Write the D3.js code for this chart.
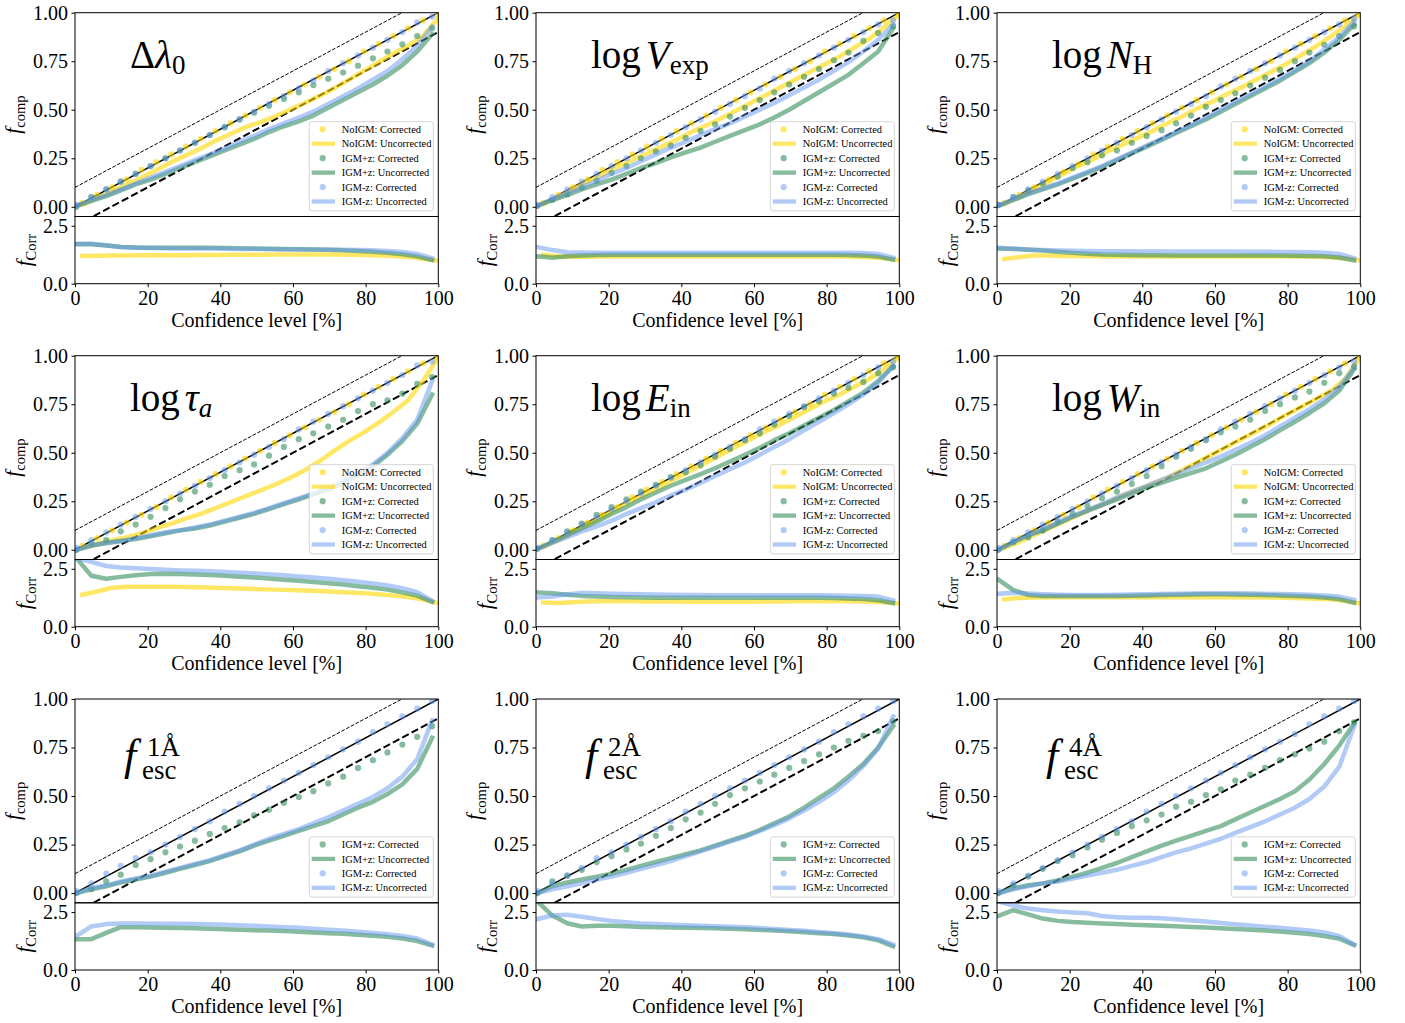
<!DOCTYPE html>
<html>
<head>
<meta charset="utf-8">
<script src="https://cdn.jsdelivr.net/npm/d3@7"></script>
<style>
  body { margin: 0; background: #fff; }
  svg text { font-family: "Liberation Serif", "Times New Roman", serif; fill: #000; }
</style>
</head>
<body>
<svg id="fig" width="1405" height="1023"></svg>
<script>
// ---------------------------------------------------------------------------
// Confidence-level grids (per mock sample set)
// ---------------------------------------------------------------------------
const CL_IGM   = [0.4, 4.5, 8.6, 12.6, 16.7, 20.8, 24.9, 28.9, 33.0, 37.1, 41.2, 45.3, 49.3, 53.4, 57.5, 61.6, 65.6, 69.7, 73.8, 77.9, 82.0, 86.0, 90.1, 94.2, 98.3];
const CL_NOIGM = [2.0, 6.1, 10.2, 14.2, 18.3, 22.4, 26.5, 30.5, 34.6, 38.7, 42.8, 46.9, 50.9, 55.0, 59.1, 63.2, 67.2, 71.3, 75.4, 79.5, 83.6, 87.6, 91.7, 95.8, 99.9];

const X_TICKS = [0, 20, 40, 60, 80, 100];
const COMP_TICKS = [0, 0.25, 0.5, 0.75, 1.0];
const CORR_TICKS = [0, 2.5];
const SERIES_NAMES = ["NoIGM", "IGM+z", "IGM-z"];
const REF_OFFSETS = [0.1, 0.0, -0.1];

// ---------------------------------------------------------------------------
// Δλ0
// ---------------------------------------------------------------------------
const dl0_nigm_corr  = [0.02,0.06,0.10,0.14,0.19,0.23,0.27,0.31,0.35,0.39,0.43,0.47,0.51,0.55,0.59,0.63,0.67,0.71,0.75,0.80,0.84,0.88,0.92,0.96,0.99];
const dl0_nigm_unc   = [0.01,0.045,0.08,0.115,0.15,0.19,0.23,0.265,0.30,0.34,0.375,0.41,0.435,0.465,0.50,0.535,0.57,0.61,0.655,0.70,0.745,0.79,0.83,0.88,0.97];
const dl0_nigm_fcorr = [1.20,1.21,1.22,1.22,1.23,1.23,1.23,1.23,1.24,1.24,1.25,1.25,1.25,1.26,1.26,1.26,1.26,1.26,1.25,1.24,1.22,1.20,1.15,1.08,1.00];
const dl0_pz_corr    = [0.00,0.05,0.09,0.13,0.17,0.21,0.25,0.29,0.33,0.37,0.41,0.45,0.485,0.52,0.555,0.59,0.627,0.66,0.692,0.727,0.765,0.80,0.837,0.88,0.92];
const dl0_pz_unc     = [0.005,0.03,0.055,0.085,0.115,0.14,0.17,0.20,0.23,0.26,0.29,0.32,0.35,0.385,0.415,0.44,0.47,0.51,0.55,0.59,0.63,0.675,0.73,0.80,0.89];
const dl0_pz_fcorr   = [1.70,1.70,1.65,1.58,1.56,1.55,1.55,1.55,1.55,1.55,1.54,1.53,1.52,1.51,1.50,1.49,1.48,1.46,1.44,1.41,1.38,1.33,1.27,1.18,1.02];
const dl0_mz_corr    = [0.01,0.05,0.09,0.13,0.17,0.21,0.25,0.29,0.33,0.37,0.41,0.45,0.49,0.53,0.57,0.61,0.65,0.70,0.74,0.78,0.82,0.86,0.90,0.95,0.98];
const dl0_mz_unc     = [0.005,0.035,0.06,0.09,0.12,0.15,0.18,0.21,0.24,0.27,0.30,0.335,0.365,0.40,0.43,0.46,0.49,0.53,0.57,0.61,0.655,0.70,0.76,0.83,0.93];
const dl0_mz_fcorr   = [1.72,1.72,1.66,1.58,1.55,1.54,1.53,1.52,1.52,1.52,1.51,1.50,1.50,1.49,1.48,1.48,1.48,1.47,1.46,1.45,1.44,1.41,1.37,1.28,1.10];

// ---------------------------------------------------------------------------
// log V_exp
// ---------------------------------------------------------------------------
const vexp_nigm_corr  = [0.02,0.06,0.10,0.14,0.19,0.23,0.27,0.31,0.35,0.39,0.43,0.47,0.51,0.55,0.59,0.63,0.67,0.71,0.75,0.80,0.84,0.88,0.92,0.96,0.99];
const vexp_nigm_unc   = [0.015,0.05,0.09,0.13,0.165,0.205,0.24,0.275,0.31,0.345,0.385,0.42,0.455,0.495,0.535,0.575,0.615,0.655,0.695,0.735,0.775,0.82,0.865,0.925,0.99];
const vexp_nigm_fcorr = [1.25,1.18,1.16,1.16,1.17,1.17,1.17,1.17,1.17,1.17,1.17,1.17,1.17,1.17,1.17,1.17,1.17,1.17,1.17,1.17,1.17,1.16,1.14,1.10,1.02];
const vexp_pz_corr    = [0.005,0.035,0.065,0.10,0.135,0.175,0.21,0.25,0.285,0.315,0.355,0.39,0.425,0.465,0.51,0.55,0.59,0.63,0.67,0.71,0.755,0.795,0.855,0.895,0.93];
const vexp_pz_unc     = [0.005,0.035,0.06,0.09,0.115,0.14,0.17,0.20,0.225,0.255,0.28,0.305,0.335,0.365,0.395,0.425,0.46,0.50,0.545,0.59,0.635,0.68,0.74,0.80,0.92];
const vexp_pz_fcorr   = [1.18,1.12,1.18,1.22,1.24,1.25,1.25,1.25,1.25,1.25,1.25,1.25,1.25,1.25,1.25,1.25,1.25,1.25,1.25,1.25,1.25,1.24,1.22,1.17,1.04];
const vexp_mz_corr    = [0.01,0.05,0.09,0.13,0.17,0.21,0.25,0.29,0.33,0.37,0.41,0.45,0.49,0.53,0.57,0.61,0.66,0.70,0.74,0.78,0.82,0.86,0.90,0.94,0.96];
const vexp_mz_unc     = [0.005,0.04,0.07,0.10,0.135,0.17,0.20,0.235,0.27,0.305,0.335,0.37,0.40,0.43,0.465,0.50,0.535,0.575,0.615,0.655,0.70,0.745,0.80,0.86,0.94];
const vexp_mz_fcorr   = [1.58,1.45,1.36,1.35,1.34,1.34,1.34,1.34,1.34,1.34,1.34,1.34,1.34,1.34,1.34,1.34,1.34,1.34,1.34,1.34,1.34,1.34,1.33,1.28,1.12];

// ---------------------------------------------------------------------------
// log N_H
// ---------------------------------------------------------------------------
const nh_nigm_corr  = [0.02,0.06,0.10,0.14,0.18,0.22,0.27,0.31,0.35,0.39,0.43,0.47,0.51,0.55,0.59,0.63,0.67,0.71,0.75,0.80,0.84,0.88,0.92,0.96,0.99];
const nh_nigm_unc   = [0.015,0.05,0.09,0.13,0.17,0.21,0.245,0.285,0.32,0.355,0.39,0.43,0.465,0.505,0.54,0.58,0.615,0.655,0.695,0.735,0.78,0.825,0.875,0.93,0.995];
const nh_nigm_fcorr = [1.07,1.15,1.22,1.22,1.20,1.19,1.18,1.17,1.17,1.17,1.17,1.17,1.17,1.17,1.17,1.17,1.17,1.17,1.17,1.17,1.17,1.16,1.14,1.10,1.01];
const nh_pz_corr    = [0.01,0.05,0.085,0.12,0.155,0.20,0.23,0.265,0.29,0.33,0.365,0.395,0.43,0.47,0.515,0.55,0.585,0.625,0.665,0.705,0.75,0.795,0.835,0.88,0.93];
const nh_pz_unc     = [0.005,0.035,0.065,0.09,0.115,0.145,0.175,0.205,0.24,0.275,0.31,0.345,0.38,0.415,0.45,0.49,0.53,0.57,0.61,0.65,0.695,0.74,0.795,0.86,0.94];
const nh_pz_fcorr   = [1.52,1.50,1.47,1.43,1.38,1.33,1.29,1.26,1.25,1.24,1.23,1.23,1.22,1.22,1.22,1.22,1.22,1.22,1.22,1.22,1.21,1.20,1.18,1.13,1.01];
const nh_mz_corr    = [0.01,0.05,0.09,0.13,0.17,0.21,0.25,0.29,0.33,0.37,0.41,0.45,0.49,0.53,0.57,0.62,0.66,0.70,0.74,0.78,0.82,0.86,0.90,0.94,0.97];
const nh_mz_unc     = [0.005,0.04,0.07,0.095,0.12,0.15,0.18,0.21,0.245,0.28,0.315,0.35,0.385,0.42,0.46,0.50,0.54,0.58,0.62,0.66,0.705,0.75,0.81,0.875,0.955];
const nh_mz_fcorr   = [1.55,1.52,1.48,1.45,1.43,1.42,1.41,1.40,1.40,1.40,1.39,1.39,1.39,1.39,1.39,1.39,1.39,1.38,1.38,1.37,1.37,1.36,1.34,1.28,1.10];

// ---------------------------------------------------------------------------
// log τ_a
// ---------------------------------------------------------------------------
const tau_nigm_corr  = [0.02,0.06,0.10,0.14,0.18,0.22,0.27,0.31,0.35,0.39,0.43,0.47,0.51,0.55,0.59,0.63,0.67,0.71,0.75,0.80,0.84,0.88,0.92,0.96,0.99];
const tau_nigm_unc   = [0.01,0.03,0.05,0.065,0.085,0.11,0.135,0.16,0.185,0.215,0.245,0.275,0.305,0.335,0.37,0.41,0.455,0.51,0.56,0.605,0.655,0.71,0.77,0.87,0.99];
const tau_nigm_fcorr = [1.38,1.52,1.68,1.72,1.72,1.72,1.72,1.71,1.70,1.68,1.66,1.64,1.62,1.60,1.58,1.56,1.54,1.51,1.48,1.44,1.40,1.35,1.28,1.17,1.02];
const tau_pz_corr    = [0.00,0.035,0.05,0.095,0.13,0.17,0.215,0.26,0.30,0.335,0.38,0.41,0.44,0.485,0.53,0.57,0.60,0.635,0.67,0.715,0.75,0.77,0.805,0.855,0.89];
const tau_pz_unc     = [0.00,0.02,0.035,0.045,0.055,0.07,0.085,0.10,0.11,0.125,0.145,0.165,0.185,0.21,0.235,0.26,0.285,0.31,0.345,0.385,0.43,0.49,0.56,0.65,0.80];
const tau_pz_fcorr   = [2.95,2.20,2.07,2.15,2.22,2.27,2.28,2.27,2.25,2.23,2.20,2.16,2.12,2.08,2.03,1.98,1.93,1.88,1.82,1.75,1.68,1.60,1.48,1.34,1.07];
const tau_mz_corr    = [0.01,0.05,0.09,0.13,0.17,0.21,0.25,0.29,0.33,0.37,0.41,0.45,0.49,0.53,0.57,0.62,0.66,0.70,0.74,0.78,0.82,0.86,0.90,0.95,0.97];
const tau_mz_unc     = [0.00,0.025,0.035,0.045,0.06,0.075,0.09,0.10,0.115,0.13,0.15,0.17,0.19,0.215,0.24,0.265,0.29,0.32,0.355,0.395,0.44,0.50,0.575,0.67,0.87];
const tau_mz_fcorr   = [2.95,2.80,2.62,2.55,2.52,2.49,2.46,2.43,2.41,2.39,2.36,2.33,2.30,2.26,2.22,2.17,2.12,2.07,2.01,1.94,1.87,1.78,1.66,1.49,1.12];

// ---------------------------------------------------------------------------
// log E_in
// ---------------------------------------------------------------------------
const ein_nigm_corr  = [0.02,0.06,0.10,0.14,0.18,0.22,0.27,0.31,0.35,0.39,0.43,0.47,0.51,0.55,0.59,0.63,0.67,0.71,0.75,0.80,0.84,0.88,0.92,0.96,0.99];
const ein_nigm_unc   = [0.015,0.05,0.09,0.13,0.17,0.215,0.255,0.29,0.33,0.37,0.41,0.45,0.49,0.53,0.57,0.61,0.645,0.685,0.725,0.765,0.80,0.84,0.88,0.93,0.995];
const ein_nigm_fcorr = [1.04,1.02,1.06,1.09,1.10,1.10,1.10,1.09,1.09,1.09,1.08,1.08,1.08,1.08,1.08,1.09,1.09,1.10,1.10,1.10,1.10,1.10,1.08,1.05,1.00];
const ein_pz_corr    = [0.005,0.05,0.095,0.135,0.18,0.22,0.26,0.30,0.335,0.375,0.40,0.435,0.48,0.52,0.565,0.60,0.645,0.69,0.735,0.765,0.805,0.835,0.865,0.91,0.94];
const ein_pz_unc     = [0.005,0.04,0.075,0.11,0.145,0.185,0.22,0.26,0.295,0.33,0.36,0.39,0.42,0.455,0.49,0.525,0.565,0.60,0.64,0.68,0.72,0.765,0.81,0.87,0.945];
const ein_pz_fcorr   = [1.48,1.44,1.38,1.33,1.30,1.28,1.27,1.26,1.25,1.25,1.25,1.25,1.25,1.25,1.25,1.25,1.25,1.25,1.25,1.25,1.24,1.22,1.20,1.14,1.02];
const ein_mz_corr    = [0.01,0.05,0.09,0.13,0.17,0.21,0.25,0.29,0.33,0.37,0.41,0.45,0.49,0.53,0.57,0.62,0.66,0.70,0.74,0.78,0.82,0.86,0.90,0.94,0.97];
const ein_mz_unc     = [0.005,0.035,0.065,0.095,0.12,0.15,0.185,0.215,0.245,0.28,0.31,0.345,0.38,0.415,0.45,0.49,0.53,0.57,0.615,0.66,0.705,0.75,0.80,0.86,0.95];
const ein_mz_fcorr   = [1.26,1.30,1.40,1.45,1.44,1.42,1.41,1.40,1.39,1.38,1.37,1.37,1.36,1.36,1.36,1.36,1.36,1.36,1.36,1.36,1.35,1.34,1.33,1.30,1.14];

// ---------------------------------------------------------------------------
// log W_in
// ---------------------------------------------------------------------------
const win_nigm_corr  = [0.02,0.06,0.10,0.14,0.18,0.22,0.27,0.31,0.35,0.39,0.43,0.47,0.51,0.55,0.59,0.63,0.67,0.71,0.75,0.80,0.84,0.88,0.92,0.96,0.99];
const win_nigm_unc   = [0.01,0.04,0.075,0.11,0.145,0.18,0.215,0.245,0.28,0.31,0.34,0.37,0.41,0.45,0.49,0.53,0.57,0.61,0.65,0.695,0.735,0.775,0.815,0.88,0.99];
const win_nigm_fcorr = [1.18,1.24,1.26,1.27,1.27,1.27,1.27,1.27,1.27,1.27,1.27,1.27,1.27,1.27,1.27,1.27,1.27,1.27,1.26,1.25,1.23,1.21,1.18,1.12,1.01];
const win_pz_corr    = [0.00,0.04,0.065,0.10,0.145,0.185,0.225,0.265,0.30,0.34,0.38,0.43,0.48,0.52,0.565,0.605,0.635,0.67,0.715,0.75,0.785,0.815,0.86,0.91,0.945];
const win_pz_unc     = [0.00,0.04,0.075,0.10,0.135,0.17,0.20,0.23,0.26,0.29,0.32,0.345,0.37,0.395,0.42,0.455,0.49,0.53,0.57,0.615,0.66,0.705,0.755,0.82,0.93];
const win_pz_fcorr   = [2.03,1.58,1.37,1.33,1.33,1.33,1.33,1.33,1.33,1.34,1.35,1.37,1.38,1.39,1.40,1.40,1.39,1.38,1.37,1.35,1.33,1.30,1.26,1.19,1.03];
const win_mz_corr    = [0.01,0.05,0.09,0.13,0.17,0.21,0.25,0.29,0.33,0.37,0.41,0.45,0.49,0.53,0.57,0.62,0.66,0.70,0.74,0.78,0.82,0.86,0.90,0.94,0.97];
const win_mz_unc     = [0.00,0.04,0.075,0.105,0.14,0.175,0.205,0.235,0.27,0.30,0.33,0.36,0.39,0.42,0.45,0.48,0.515,0.55,0.59,0.635,0.68,0.725,0.775,0.84,0.94];
const win_mz_fcorr   = [1.42,1.46,1.43,1.40,1.38,1.37,1.37,1.37,1.38,1.39,1.40,1.41,1.42,1.43,1.44,1.44,1.44,1.43,1.42,1.41,1.40,1.38,1.35,1.30,1.15];

// ---------------------------------------------------------------------------
// f_esc (1 Å, 2 Å, 4 Å) — IGM mocks only
// ---------------------------------------------------------------------------
const fesc1_pz_corr  = [0.00,0.02,0.06,0.095,0.145,0.175,0.21,0.24,0.27,0.305,0.335,0.365,0.40,0.43,0.465,0.495,0.525,0.565,0.60,0.645,0.685,0.725,0.765,0.805,0.86];
const fesc1_pz_unc   = [0.00,0.02,0.035,0.055,0.07,0.085,0.105,0.125,0.145,0.165,0.19,0.215,0.245,0.27,0.295,0.32,0.345,0.37,0.405,0.44,0.47,0.51,0.56,0.64,0.80];
const fesc1_pz_fcorr = [1.33,1.33,1.60,1.85,1.84,1.83,1.82,1.81,1.80,1.78,1.76,1.74,1.72,1.70,1.68,1.65,1.62,1.59,1.56,1.52,1.48,1.43,1.36,1.25,1.06];
const fesc1_mz_corr  = [0.01,0.05,0.10,0.14,0.18,0.21,0.25,0.29,0.33,0.37,0.42,0.46,0.50,0.54,0.58,0.62,0.66,0.70,0.74,0.78,0.83,0.87,0.91,0.95,0.99];
const fesc1_mz_unc   = [0.00,0.025,0.04,0.06,0.075,0.09,0.11,0.13,0.15,0.17,0.195,0.22,0.25,0.28,0.305,0.33,0.36,0.39,0.425,0.46,0.495,0.54,0.60,0.69,0.89];
const fesc1_mz_fcorr = [1.47,1.88,1.98,2.01,2.01,2.00,2.00,2.00,1.99,1.97,1.95,1.93,1.91,1.88,1.85,1.82,1.78,1.74,1.70,1.65,1.60,1.54,1.47,1.36,1.10];

const fesc2_pz_corr  = [0.00,0.06,0.09,0.12,0.16,0.19,0.225,0.255,0.295,0.335,0.38,0.415,0.46,0.505,0.54,0.575,0.61,0.645,0.68,0.715,0.75,0.785,0.81,0.835,0.885];
const fesc2_pz_unc   = [0.00,0.035,0.055,0.07,0.085,0.10,0.12,0.14,0.16,0.18,0.20,0.22,0.245,0.27,0.295,0.325,0.36,0.395,0.44,0.49,0.54,0.60,0.665,0.75,0.86];
const fesc2_pz_fcorr = [2.95,2.35,2.02,1.88,1.91,1.91,1.89,1.86,1.84,1.83,1.82,1.81,1.80,1.78,1.76,1.73,1.70,1.67,1.63,1.59,1.55,1.49,1.41,1.28,1.02];
const fesc2_mz_corr  = [0.01,0.05,0.09,0.13,0.18,0.21,0.25,0.29,0.33,0.37,0.42,0.46,0.50,0.54,0.58,0.62,0.66,0.70,0.74,0.78,0.83,0.87,0.91,0.95,0.99];
const fesc2_mz_unc   = [0.00,0.02,0.035,0.05,0.07,0.085,0.105,0.125,0.145,0.165,0.19,0.215,0.24,0.265,0.29,0.32,0.35,0.385,0.425,0.47,0.52,0.58,0.655,0.745,0.91];
const fesc2_mz_fcorr = [2.20,2.35,2.38,2.30,2.20,2.12,2.06,2.01,1.98,1.95,1.93,1.91,1.89,1.87,1.84,1.81,1.77,1.73,1.69,1.64,1.59,1.53,1.45,1.33,1.10];

const fesc4_pz_corr  = [0.00,0.04,0.085,0.125,0.165,0.195,0.235,0.275,0.31,0.345,0.375,0.405,0.445,0.47,0.505,0.535,0.58,0.61,0.645,0.685,0.715,0.745,0.78,0.835,0.88];
const fesc4_pz_unc   = [0.00,0.025,0.04,0.05,0.065,0.085,0.105,0.13,0.155,0.185,0.215,0.245,0.27,0.295,0.32,0.345,0.38,0.415,0.45,0.485,0.525,0.585,0.665,0.76,0.875];
const fesc4_pz_fcorr = [2.34,2.58,2.40,2.22,2.12,2.07,2.04,2.01,1.98,1.95,1.93,1.91,1.89,1.86,1.83,1.80,1.77,1.74,1.70,1.66,1.61,1.55,1.47,1.35,1.08];
const fesc4_mz_corr  = [0.01,0.05,0.09,0.13,0.17,0.21,0.25,0.29,0.33,0.37,0.42,0.46,0.50,0.54,0.58,0.62,0.66,0.70,0.74,0.78,0.82,0.87,0.91,0.95,0.99];
const fesc4_mz_unc   = [0.00,0.02,0.035,0.05,0.06,0.075,0.09,0.105,0.12,0.14,0.16,0.185,0.21,0.23,0.255,0.28,0.31,0.34,0.37,0.405,0.44,0.485,0.55,0.65,0.86];
const fesc4_mz_fcorr = [2.95,2.78,2.65,2.58,2.52,2.48,2.45,2.33,2.28,2.26,2.25,2.23,2.19,2.14,2.09,2.03,1.97,1.92,1.87,1.82,1.76,1.70,1.62,1.47,1.10];

// ---------------------------------------------------------------------------
// Panel table built from the arrays above
// ---------------------------------------------------------------------------
const PANELS = [
  { title: "dl0",  sets: [[0, dl0_nigm_corr, dl0_nigm_unc, dl0_nigm_fcorr], [1, dl0_pz_corr, dl0_pz_unc, dl0_pz_fcorr], [2, dl0_mz_corr, dl0_mz_unc, dl0_mz_fcorr]] },
  { title: "vexp", sets: [[0, vexp_nigm_corr, vexp_nigm_unc, vexp_nigm_fcorr], [1, vexp_pz_corr, vexp_pz_unc, vexp_pz_fcorr], [2, vexp_mz_corr, vexp_mz_unc, vexp_mz_fcorr]] },
  { title: "nh",   sets: [[0, nh_nigm_corr, nh_nigm_unc, nh_nigm_fcorr], [1, nh_pz_corr, nh_pz_unc, nh_pz_fcorr], [2, nh_mz_corr, nh_mz_unc, nh_mz_fcorr]] },
  { title: "tau",  sets: [[0, tau_nigm_corr, tau_nigm_unc, tau_nigm_fcorr], [1, tau_pz_corr, tau_pz_unc, tau_pz_fcorr], [2, tau_mz_corr, tau_mz_unc, tau_mz_fcorr]] },
  { title: "ein",  sets: [[0, ein_nigm_corr, ein_nigm_unc, ein_nigm_fcorr], [1, ein_pz_corr, ein_pz_unc, ein_pz_fcorr], [2, ein_mz_corr, ein_mz_unc, ein_mz_fcorr]] },
  { title: "win",  sets: [[0, win_nigm_corr, win_nigm_unc, win_nigm_fcorr], [1, win_pz_corr, win_pz_unc, win_pz_fcorr], [2, win_mz_corr, win_mz_unc, win_mz_fcorr]] },
  { title: "fesc1", sets: [[1, fesc1_pz_corr, fesc1_pz_unc, fesc1_pz_fcorr], [2, fesc1_mz_corr, fesc1_mz_unc, fesc1_mz_fcorr]] },
  { title: "fesc2", sets: [[1, fesc2_pz_corr, fesc2_pz_unc, fesc2_pz_fcorr], [2, fesc2_mz_corr, fesc2_mz_unc, fesc2_mz_fcorr]] },
  { title: "fesc4", sets: [[1, fesc4_pz_corr, fesc4_pz_unc, fesc4_pz_fcorr], [2, fesc4_mz_corr, fesc4_mz_unc, fesc4_mz_fcorr]] },
];

// ---------------------------------------------------------------------------
// Styling and layout
// ---------------------------------------------------------------------------
const COLORS = ["#FFD700", "#2E8B57", "#6495ED"];
const ALPHAS = [0.6, 0.58, 0.5];
const GRIDS  = [CL_NOIGM, CL_IGM, CL_IGM];
const SERIF = '"Liberation Serif", "Times New Roman", serif';

const COL_X = [75, 536, 997];
const ROW_Y = [12.7, 355.7, 699];
const W = 363.3, HT = 203.8, HB = 67.2;

const svg = d3.select("#fig");
const defs = svg.append("defs");

const x = d3.scaleLinear().domain([0, 100]).range([0, W]);
const yT = d3.scaleLinear().domain([-0.05, 1.0]).range([HT, 0]);
const yB = d3.scaleLinear().domain([0, 2.9]).range([HB, 0]);

defs.append("clipPath").attr("id", "clipTop").append("rect").attr("width", W).attr("height", HT);
defs.append("clipPath").attr("id", "clipBot").append("rect").attr("width", W).attr("height", HB);

function styleAxis(ax) {
  ax.attr("font-family", null).attr("font-size", null);
  ax.select(".domain").remove();
  ax.selectAll("line").attr("stroke", "#000").attr("stroke-width", 1);
  ax.selectAll("text").style("font-family", SERIF).style("font-size", "20px");
}

function drawTitle(g, key) {
  const t = g.append("text").attr("font-size", 39);
  const add = (s, opts = {}) => {
    const sp = t.append("tspan").text(s);
    if (opts.it) sp.attr("font-style", "italic");
    if (opts.size) sp.attr("font-size", opts.size);
    if (opts.dy) sp.attr("dy", opts.dy);
    if (opts.dx) sp.attr("dx", opts.dx);
    if (opts.x !== undefined) sp.attr("x", opts.x);
    if (opts.y !== undefined) sp.attr("y", opts.y);
    return sp;
  };
  if (key.startsWith("fesc")) {
    // f with stacked superscript (aperture) and subscript "esc"
    const sup = { fesc1: "1Å", fesc2: "2Å", fesc4: "4Å" }[key];
    t.attr("x", 49).attr("y", 70.5);
    add("f", { it: true, size: 44 });
    add(sup, { size: 27, x: 72, y: 57 });
    add("esc", { size: 27, x: 67, y: 80 });
    return;
  }
  t.attr("x", 55).attr("y", 55.6);
  const specs = {
    dl0:  [["Δ", {}], ["λ", { it: true }], ["0", { size: 27, dy: 6 }]],
    vexp: [["log", {}], ["V", { it: true, dx: 5 }], ["exp", { size: 27, dy: 6 }]],
    nh:   [["log", {}], ["N", { it: true, dx: 5 }], ["H", { size: 27, dy: 6 }]],
    tau:  [["log", {}], ["τ", { it: true, dx: 5 }], ["a", { size: 27, dy: 6, it: true }]],
    ein:  [["log", {}], ["E", { it: true, dx: 5 }], ["in", { size: 27, dy: 6 }]],
    win:  [["log", {}], ["W", { it: true, dx: 5 }], ["in", { size: 27, dy: 6 }]],
  }[key];
  specs.forEach(([s, o]) => add(s, o));
}

function yLabel(g, cx, cy, sub) {
  const t = g.append("text")
    .attr("transform", `translate(${cx},${cy}) rotate(-90)`)
    .attr("text-anchor", "middle");
  t.append("tspan").attr("font-style", "italic").attr("font-size", 21).text("f");
  t.append("tspan").attr("font-size", 14.5).attr("dy", 4.5).text(sub);
}

PANELS.forEach((p, k) => {
  const col = k % 3, row = Math.floor(k / 3);
  const g = svg.append("g").attr("transform", `translate(${COL_X[col]},${ROW_Y[row]})`);

  // ---------- upper axes: completeness ----------
  const top = g.append("g");
  const topPlot = top.append("g").attr("clip-path", "url(#clipTop)");

  // reference lines y = x + 0.1, y = x, y = x - 0.1
  REF_OFFSETS.forEach(off => {
    const pts = [0, 100].map(v => [v, v / 100 + off]);
    const path = topPlot.append("path")
      .attr("d", d3.line().x(d => x(d[0])).y(d => yT(d[1]))(pts))
      .attr("fill", "none").attr("stroke", "#000");
    if (off > 0) path.attr("stroke-width", 1).attr("stroke-dasharray", "3.7,1.6");
    else if (off < 0) path.attr("stroke-width", 2).attr("stroke-dasharray", "7.4,3.2");
    else path.attr("stroke-width", 1.5);
  });

  p.sets.forEach(([si, corr, unc]) => {
    const cl = GRIDS[si];
    topPlot.append("g").selectAll("circle").data(corr).join("circle")
      .attr("cx", (d, i) => x(cl[i])).attr("cy", d => yT(d)).attr("r", 3.1)
      .attr("fill", COLORS[si]).attr("fill-opacity", ALPHAS[si]);
    topPlot.append("path")
      .attr("d", d3.line().x((d, i) => x(cl[i])).y(d => yT(d))(unc))
      .attr("fill", "none").attr("stroke", COLORS[si]).attr("stroke-opacity", ALPHAS[si])
      .attr("stroke-width", 4.5).attr("stroke-linejoin", "round").attr("stroke-linecap", "square");
  });

  const axT = top.append("g").call(d3.axisLeft(yT).tickValues(COMP_TICKS)
    .tickFormat(d3.format(".2f")).tickSize(3.5).tickPadding(3.5));
  styleAxis(axT);

  top.append("rect").attr("width", W).attr("height", HT)
    .attr("fill", "none").attr("stroke", "#000").attr("stroke-width", 1);

  drawTitle(top, p.title);

  // legend
  const n = p.sets.length * 2;
  const lh = 7.6 + (n - 1) * 14.45 + 9.3, lw = 124;
  const lg = top.append("g").attr("transform", `translate(${W - 5 - lw},${HT - 5.7 - lh})`);
  lg.append("rect").attr("width", lw).attr("height", lh).attr("rx", 2.5)
    .attr("fill", "#fff").attr("fill-opacity", 0.8).attr("stroke", "#cccccc").attr("stroke-width", 0.8);
  let r = 0;
  p.sets.forEach(([si]) => {
    ["Corrected", "Uncorrected"].forEach((kind, j) => {
      const yy = 7.6 + r * 14.45;
      if (j === 0) {
        lg.append("circle").attr("cx", 13.4).attr("cy", yy).attr("r", 3.1)
          .attr("fill", COLORS[si]).attr("fill-opacity", ALPHAS[si]);
      } else {
        lg.append("line").attr("x1", 2.4).attr("x2", 25.7).attr("y1", yy).attr("y2", yy)
          .attr("stroke", COLORS[si]).attr("stroke-opacity", ALPHAS[si]).attr("stroke-width", 4.3);
      }
      lg.append("text").attr("x", 32.4).attr("y", yy).attr("dy", "0.35em")
        .attr("font-size", 10.4).text(`${SERIES_NAMES[si]}: ${kind}`);
      r++;
    });
  });

  yLabel(top, -55, HT / 2, "comp");

  // ---------- lower axes: correction factor ----------
  const bot = g.append("g").attr("transform", `translate(0,${HT})`);
  const botPlot = bot.append("g").attr("clip-path", "url(#clipBot)");
  p.sets.forEach(([si, , , fc]) => {
    const cl = GRIDS[si];
    botPlot.append("path")
      .attr("d", d3.line().x((d, i) => x(cl[i])).y(d => yB(d))(fc))
      .attr("fill", "none").attr("stroke", COLORS[si]).attr("stroke-opacity", ALPHAS[si])
      .attr("stroke-width", 4.5).attr("stroke-linejoin", "round").attr("stroke-linecap", "square");
  });

  const axB = bot.append("g").call(d3.axisLeft(yB).tickValues(CORR_TICKS)
    .tickFormat(d3.format(".1f")).tickSize(3.5).tickPadding(3.5));
  styleAxis(axB);

  const axX = bot.append("g").attr("transform", `translate(0,${HB})`)
    .call(d3.axisBottom(x).tickValues(X_TICKS).tickFormat(d3.format("d")).tickSize(3.5).tickPadding(3.5));
  styleAxis(axX);

  bot.append("rect").attr("width", W).attr("height", HB)
    .attr("fill", "none").attr("stroke", "#000").attr("stroke-width", 1);

  yLabel(bot, -44, HB / 2, "Corr");

  bot.append("text").attr("x", W / 2).attr("y", HB + 43).attr("text-anchor", "middle")
    .attr("font-size", 20).text("Confidence level [%]");
});
</script>
</body>
</html>
